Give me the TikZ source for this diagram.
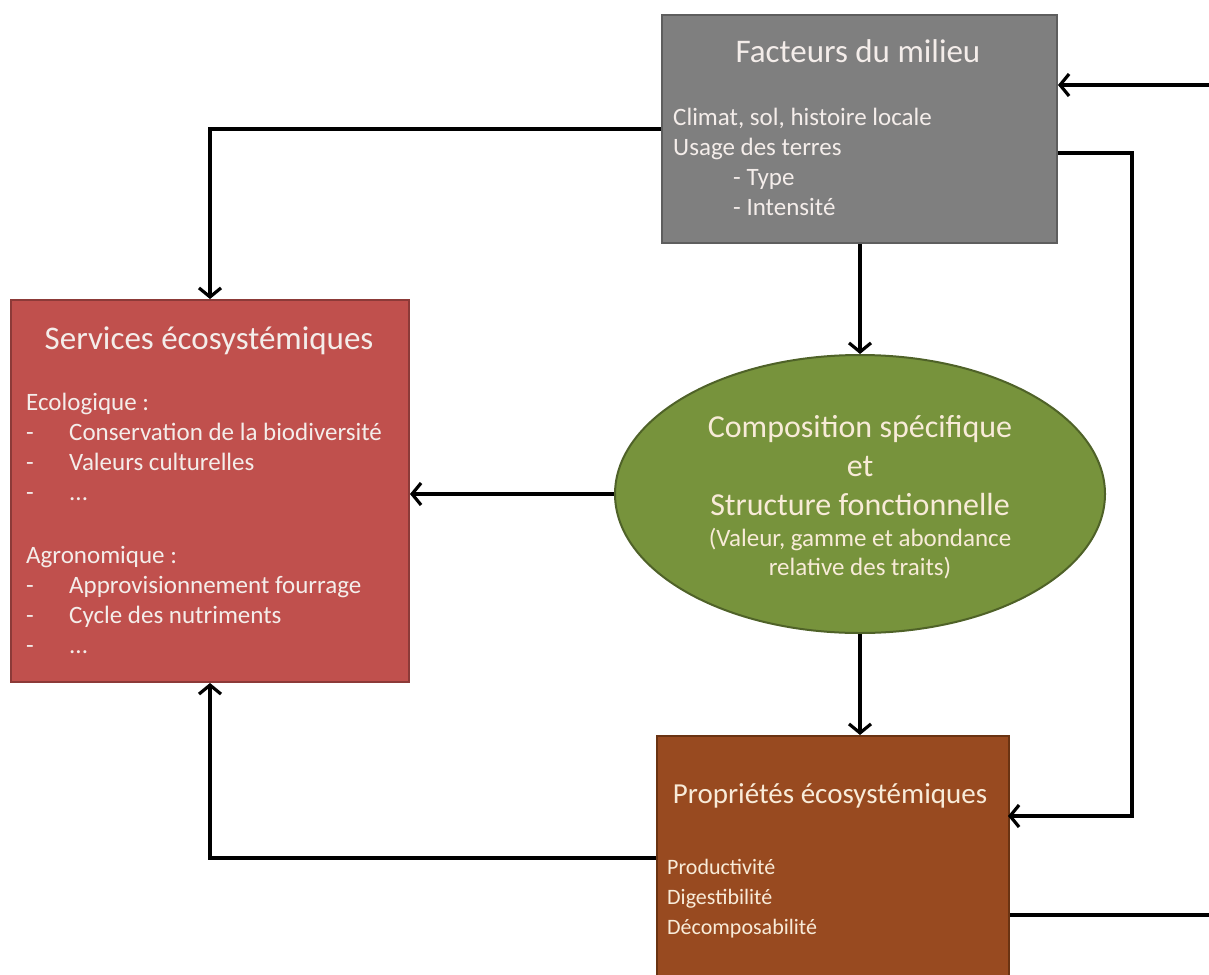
\documentclass[tikz,border=0pt]{standalone}
\usepackage{fontspec}
\setmainfont{Carlito}
\usetikzlibrary{arrows.meta,shapes.geometric,calc}
\definecolor{grayfill}{HTML}{7F7F7F}
\definecolor{grayline}{HTML}{5E5E5E}
\definecolor{redfill}{HTML}{C0504D}
\definecolor{redline}{HTML}{8C3A38}
\definecolor{greenfill}{HTML}{77933C}
\definecolor{greenline}{HTML}{4F6228}
\definecolor{brownfill}{HTML}{984A20}
\definecolor{brownline}{HTML}{6A3312}
\definecolor{lighttxt}{HTML}{F8EBD8}
\definecolor{whitetxt}{HTML}{F4EDEA}
\newcommand{\firststrut}{\rule{0pt}{20pt}}
\newcommand{\dashitem}{\makebox[43pt][l]{-}}
\tikzset{
  box/.style={draw, line width=2pt, anchor=north west, inner sep=0pt},
  ttl/.style={inner sep=0pt, anchor=base},
  bodytxt/.style={font=\fontsize{25}{30}\selectfont, inner sep=0pt, align=left, anchor=north west},
  arr/.style={line width=3.2pt, -{Straight Barb[length=9pt,width=22pt,line width=3.2pt]}},
  ln/.style={line width=3.2pt}
}
\begin{document}
\begin{tikzpicture}[x=1pt,y=-1pt]
\clip (0,0) rectangle (1209,974);
\fill[white] (0,0) rectangle (1209,974);
% boxes
\node[box, fill=grayfill, draw=grayline, minimum width=395pt, minimum height=228pt] (fact) at (661,14) {};
\node[box, fill=redfill, draw=redline, minimum width=398pt, minimum height=382pt] (serv) at (10,299) {};
\node[box, fill=brownfill, draw=brownline, minimum width=352pt, minimum height=270pt] (prop) at (656,735) {};
\node[ellipse, draw=greenline, line width=2pt, fill=greenfill, minimum width=490pt, minimum height=278pt, inner sep=0pt] (ell) at (860,494) {};
% texts
\node[ttl, text=whitetxt, font=\fontsize{33}{40}\selectfont] (factT) at (858,63) {Facteurs du milieu};
\node[bodytxt, text=whitetxt] (factB) at (673,105) {\firststrut Climat, sol, histoire locale\\Usage des terres\\\hspace*{60pt}- Type\\\hspace*{60pt}- Intensité};
\node[ttl, text=whitetxt, font=\fontsize{33}{40}\selectfont] (servT) at (209,349) {Services écosystémiques};
\node[bodytxt, text=whitetxt] (servB) at (26,390) {%
\firststrut Ecologique :\\
\dashitem Conservation de la biodiversité\\
\dashitem Valeurs culturelles\\
\dashitem ...\\[33pt]
Agronomique :\\
\dashitem Approvisionnement fourrage\\
\dashitem Cycle des nutriments\\
\dashitem ...};
\node[text=lighttxt, align=center, inner sep=0pt, anchor=north, font=\fontsize{32}{39}\selectfont] (ellT) at (860,415) {\firststrut Composition spécifique\\et\\Structure fonctionnelle};
\node[text=lighttxt, align=center, inner sep=0pt, anchor=north, font=\fontsize{25}{29}\selectfont] (ellB) at (860,526) {\firststrut(Valeur, gamme et abondance\\relative des traits)};
\node[ttl, text=lighttxt, font=\fontsize{29}{35}\selectfont] (propT) at (830,803) {Propriétés écosystémiques};
\node[bodytxt, text=lighttxt, font=\fontsize{22}{30}\selectfont] (propB) at (667,854) {\firststrut Productivité\\Digestibilité\\Décomposabilité};
% connectors
\coordinate (inR) at (1209,85);
\coordinate (outR) at (1209,915);
\coordinate (loopR) at (1132,153);
\coordinate (propIn) at (1008,816);
\coordinate (propOut) at (656,858);
\draw[arr] (inR) -- (inR -| fact.east);
\draw[ln] (outR -| prop.east) -- (outR);
\draw[arr] (fact.east |- loopR) -- (loopR) |- (propIn);
\draw[arr] (fact.west) -| (serv.north);
\draw[arr] (fact.south -| ell.north) -- (ell.north);
\draw[arr] (ell.west) -- (ell.west -| serv.east);
\draw[arr] (ell.south) -- (ell.south |- prop.north);
\draw[arr] (propOut) -| (serv.south);
\end{tikzpicture}
\end{document}
